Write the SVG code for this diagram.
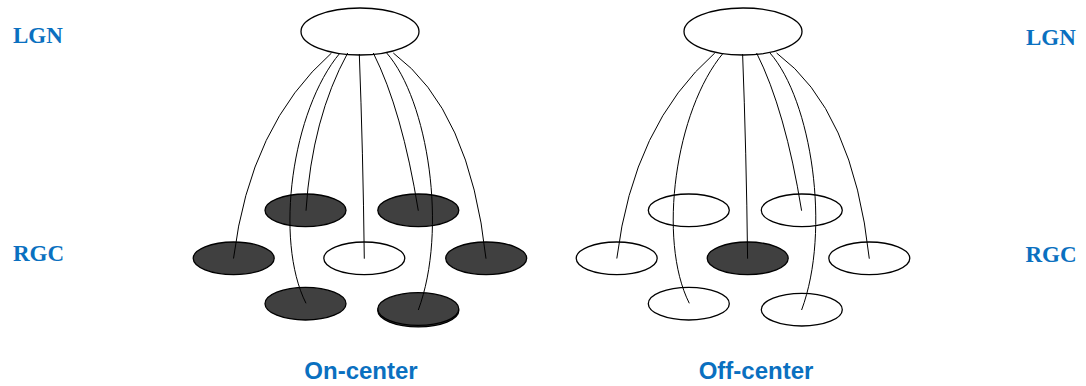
<svg xmlns="http://www.w3.org/2000/svg" width="1086" height="386" viewBox="0 0 1086 386">
  <style>
    .cell { stroke: #000; stroke-width: 1.3; }
    .on { fill: #404040; }
    .off { fill: #fff; }
    .fiber { fill: none; stroke: #000; stroke-width: 1; }
    .layer { font-family: "Liberation Serif", "Times New Roman", serif; font-weight: bold; font-size: 23px; fill: #0a70c0; }
    .caption { font-family: "Liberation Sans", Arial, sans-serif; font-weight: bold; font-size: 24px; fill: #0a70c0; text-anchor: middle; }
  </style>
  <rect width="1086" height="386" fill="#fff"/>

  <!-- layer labels -->
  <g id="labels">
    <text class="layer" x="13" y="43">LGN</text>
    <text class="layer" x="13" y="260.5">RGC</text>
    <text class="layer" x="1026" y="44.5">LGN</text>
    <text class="layer" x="1025.5" y="262">RGC</text>
    <text class="caption" x="361" y="379">On-center</text>
    <text class="caption" x="756" y="379">Off-center</text>
  </g>

  <!-- on-center field -->
  <g id="lgn-on"><ellipse class="cell off" cx="360" cy="31.5" rx="59" ry="23.5"/></g>
  <g id="on-top-left"><ellipse class="cell on" cx="305.5" cy="210.3" rx="40.5" ry="16.3"/></g>
  <g id="on-top-right"><ellipse class="cell on" cx="418.3" cy="210.3" rx="40.5" ry="16.3"/></g>
  <g id="on-left"><ellipse class="cell on" cx="233.7" cy="258.3" rx="40.5" ry="16.3"/></g>
  <g id="on-center"><ellipse class="cell off" cx="364.3" cy="258.3" rx="40.5" ry="16.3"/></g>
  <g id="on-right"><ellipse class="cell on" cx="486.2" cy="258.3" rx="40.5" ry="16.3"/></g>
  <g id="on-bottom-left"><ellipse class="cell on" cx="305.5" cy="303.7" rx="40.5" ry="16.3"/></g>
  <g id="on-bottom-right">
    <ellipse class="cell on" cx="418.3" cy="310.6" rx="40.5" ry="16.3"/>
    <ellipse class="cell on" cx="418.3" cy="309" rx="40.5" ry="16.3"/>
  </g>

  <!-- off-center field -->
  <g id="lgn-off"><ellipse class="cell off" cx="743" cy="31.5" rx="59" ry="23.5"/></g>
  <g id="off-top-left"><ellipse class="cell off" cx="688.8" cy="210.3" rx="40.5" ry="16.3"/></g>
  <g id="off-top-right"><ellipse class="cell off" cx="801.8" cy="210.3" rx="40.5" ry="16.3"/></g>
  <g id="off-left"><ellipse class="cell off" cx="616.7" cy="258.3" rx="40.5" ry="16.3"/></g>
  <g id="off-center"><ellipse class="cell on" cx="747.7" cy="258.3" rx="40.5" ry="16.3"/></g>
  <g id="off-right"><ellipse class="cell off" cx="869.3" cy="258.3" rx="40.5" ry="16.3"/></g>
  <g id="off-bottom-left"><ellipse class="cell off" cx="688.8" cy="303.7" rx="40.5" ry="16.3"/></g>
  <g id="off-bottom-right"><ellipse class="cell off" cx="801.8" cy="309.7" rx="40.5" ry="16.3"/></g>

  <!-- fibres from LGN down to the ganglion cells -->
  <g id="connectors">
    <g id="on-fibres">
      <path class="fiber" d="M331.5,53 Q250,125 233.5,258.5"/>
      <path class="fiber" d="M340,53 C292,110 274,240 306,303.3"/>
      <path class="fiber" d="M347.7,53 Q312,118 306,210.7"/>
      <path class="fiber" d="M359.3,54 Q363,150 364.3,258.7"/>
      <path class="fiber" d="M373.3,53 Q402,110 418.3,210.7"/>
      <path class="fiber" d="M386.7,53 C428,100 448,230 418.3,310"/>
      <path class="fiber" d="M393.3,53 Q470,110 486,258.7"/>
    </g>
    <g id="off-fibres" transform="translate(383.3,0)">
      <path class="fiber" d="M331.5,53 Q250,125 233.5,258.5"/>
      <path class="fiber" d="M340,53 C292,110 274,240 306,303.3"/>
      <path class="fiber" d="M359.3,54 Q363,150 364.3,258.7"/>
      <path class="fiber" d="M373.3,53 Q402,110 418.3,210.7"/>
      <path class="fiber" d="M386.7,53 C428,100 448,230 418.3,310"/>
      <path class="fiber" d="M393.3,53 Q470,110 486,258.7"/>
    </g>
  </g>
</svg>
